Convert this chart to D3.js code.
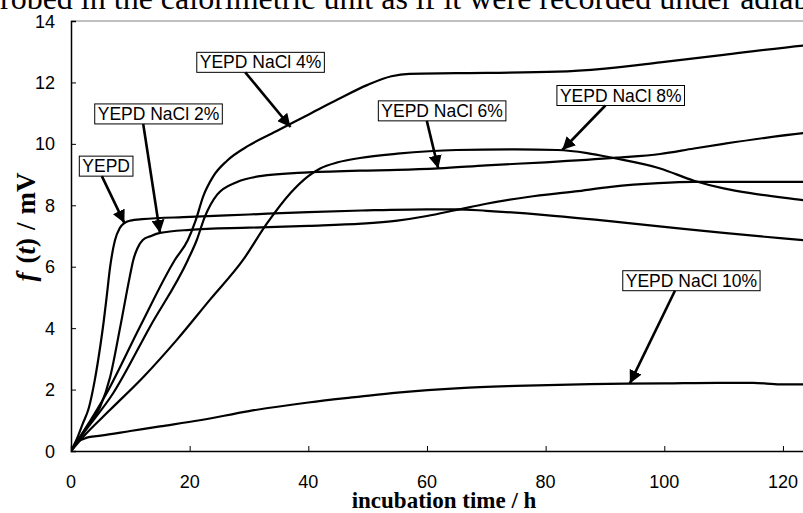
<!DOCTYPE html>
<html>
<head>
<meta charset="utf-8">
<script src="https://cdn.jsdelivr.net/npm/d3@7"></script>
<style>
  html, body { margin: 0; padding: 0; background: #fff; }
  svg { display: block; }
</style>
</head>
<body>
<svg id="chart" width="803" height="513"></svg>
<script>
// time (h) / f(t) (mV)
const yepd = [[0,0],[1,0.4],[2,0.9],[3,1.4],[4,2.3],[5,3.5],[5.5,4.2],[6,5.0],[6.6,6.0],[7.4,6.85],[8.2,7.25],[9,7.42],[10,7.5],[12,7.55],[20,7.62],[30,7.7],[40,7.78],[49,7.83],[60,7.87],[65,7.87],[70,7.82],[80,7.68],[90,7.5],[100,7.3],[110,7.1],[120,6.92],[126,6.82]];
const nacl2 = [[0,0],[1,0.3],[2.6,0.78],[4.9,1.43],[6.6,2.41],[8.3,4.04],[9.9,5.67],[10.5,6.22],[11.2,6.6],[12.1,6.87],[13.5,7.0],[15,7.1],[20,7.2],[30,7.27],[40,7.33],[49,7.4],[55,7.5],[60,7.65],[65,7.85],[70,8.05],[77,8.27],[85,8.45],[91,8.6],[99,8.72],[105,8.76],[126,8.76]];
const nacl4 = [[0,0],[2,0.6],[6,1.88],[11.6,4.04],[17.5,6.22],[19.7,6.87],[21,7.5],[22.3,8.3],[24,8.95],[26.3,9.45],[30,9.95],[35,10.45],[40,10.95],[45,11.45],[50,11.92],[54,12.2],[57,12.28],[65,12.3],[82,12.35],[90,12.45],[99.3,12.65],[110,12.9],[123.4,13.2],[126,13.25]];
const nacl6 = [[0,0],[2,0.55],[7.1,1.88],[13.3,4.04],[19.7,6.22],[21.2,6.87],[22.5,7.6],[24.6,8.34],[28,8.76],[31.9,8.95],[40,9.07],[48.7,9.13],[55,9.15],[62,9.2],[70,9.3],[80,9.4],[92,9.55],[99.3,9.67],[105,9.85],[110,10.0],[123.4,10.35],[126,10.4]];
const nacl8 = [[0,0],[2,0.45],[6.6,1.34],[12.2,2.41],[17.8,3.61],[23.4,4.92],[29,6.22],[33,7.4],[37,8.4],[40,8.95],[42,9.2],[45,9.4],[48.7,9.54],[55,9.68],[65,9.8],[75,9.82],[82,9.8],[87,9.7],[91.4,9.54],[99.3,9.2],[105,8.8],[110,8.55],[115,8.38],[123.4,8.17],[126,8.1]];
const nacl10 = [[0,0],[0.5,0.15],[1,0.3],[2,0.38],[3,0.45],[5,0.5],[10,0.65],[15,0.8],[21.7,1.0],[30,1.3],[40,1.58],[48.7,1.77],[55,1.9],[65.6,2.05],[75,2.12],[87.5,2.18],[100,2.2],[109,2.22],[115,2.22],[119.5,2.17],[126,2.17]];

const xTicks = [0, 20, 40, 60, 80, 100, 120];
const yTicks = [0, 2, 4, 6, 8, 10, 12, 14];

// label text, box corner (x, y in data units) and arrow tip (t, f)
const labels = [
  { text: "YEPD", box: [1.4, 9.6], tip: [9, 7.42] },
  { text: "YEPD NaCl 2%", box: [4, 11.3], tip: [15, 7.1] },
  { text: "YEPD NaCl 4%", box: [21.2, 12.98], tip: [37, 10.55] },
  { text: "YEPD NaCl 6%", box: [51.8, 11.4], tip: [61.9, 9.2] },
  { text: "YEPD NaCl 8%", box: [81.9, 11.9], tip: [82.8, 9.8] },
  { text: "YEPD NaCl 10%", box: [93, 5.87], tip: [94.2, 2.2] }
];

const svg = d3.select("#chart");

const x = d3.scaleLinear().domain([0, 140]).range([71, 71 + 140 * 5.933]);
const y = d3.scaleLinear().domain([0, 14]).range([451, 21]);

// text cut off at the top of the page
svg.append("text")
  .attr("x", -16)
  .attr("y", 9)
  .style("font-family", "'Liberation Serif', 'Times New Roman', serif")
  .style("font-size", "32px")
  .text("probed in the calorimetric unit as if it were recorded under adiabatic conditions");

svg.append("clipPath").attr("id", "plot")
  .append("rect")
  .attr("x", x(0)).attr("y", y(14))
  .attr("width", x(140) - x(0)).attr("height", y(0) - y(14));

// top frame line
svg.append("line")
  .attr("x1", x(0)).attr("x2", x(140))
  .attr("y1", y(14)).attr("y2", y(14))
  .attr("stroke", "#808080").attr("stroke-width", 1);

// axes, ticks pointing inward
svg.append("g")
  .attr("transform", `translate(0,${y(0)})`)
  .call(d3.axisTop(x).tickValues(xTicks).tickSize(5).tickFormat(""))
  .call(g => g.select(".domain").attr("stroke-width", 1.5));

svg.append("g")
  .attr("transform", `translate(${x(0)},0)`)
  .call(d3.axisRight(y).tickValues(yTicks).tickSize(5).tickFormat(""))
  .call(g => g.select(".domain").attr("stroke-width", 1.5));

// tick labels
svg.append("g").selectAll("text")
  .data(xTicks).join("text")
  .attr("x", d => x(d)).attr("y", 488)
  .attr("text-anchor", "middle")
  .style("font-family", "'Liberation Sans', Arial, sans-serif")
  .style("font-size", "18px")
  .text(d => d);

svg.append("g").selectAll("text")
  .data(yTicks).join("text")
  .attr("x", 55).attr("y", d => y(d) + 6.5)
  .attr("text-anchor", "end")
  .style("font-family", "'Liberation Sans', Arial, sans-serif")
  .style("font-size", "18px")
  .text(d => d);

// axis titles
svg.append("text")
  .attr("x", 444).attr("y", 508)
  .attr("text-anchor", "middle")
  .style("font-family", "'Liberation Serif', 'Times New Roman', serif")
  .style("font-size", "23px")
  .style("font-weight", "bold")
  .text("incubation time / h");

const yTitle = svg.append("text")
  .attr("transform", "translate(35,227) rotate(-90)")
  .attr("text-anchor", "middle")
  .style("font-family", "'Liberation Serif', 'Times New Roman', serif")
  .style("font-size", "27px")
  .style("font-weight", "bold");
yTitle.append("tspan").style("font-style", "italic").text("f");
yTitle.append("tspan").attr("dx", 9).text("(");
yTitle.append("tspan").style("font-style", "italic").text("t");
yTitle.append("tspan").text(")");
yTitle.append("tspan").attr("dx", 8).text("/");
yTitle.append("tspan").attr("dx", 8).text("mV");

// curves
const line = d3.line()
  .x(d => x(d[0]))
  .y(d => y(d[1]))
  .curve(d3.curveMonotoneX);

svg.append("g")
  .attr("clip-path", "url(#plot)")
  .selectAll("path")
  .data([yepd, nacl2, nacl4, nacl6, nacl8, nacl10])
  .join("path")
  .attr("d", line)
  .attr("fill", "none")
  .attr("stroke", "#000")
  .attr("stroke-width", 2.2);

// arrow head
svg.append("defs").append("marker")
  .attr("id", "head")
  .attr("viewBox", "0 0 10 10")
  .attr("refX", 10).attr("refY", 5)
  .attr("markerWidth", 5).attr("markerHeight", 5)
  .attr("markerUnits", "strokeWidth")
  .attr("orient", "auto")
  .append("path")
  .attr("d", "M0,0L10,5L0,10Z")
  .attr("fill", "#000");

// labelled boxes with arrows
const lab = svg.append("g").selectAll("g")
  .data(labels).join("g");

lab.append("text")
  .attr("x", d => x(d.box[0]) + 3)
  .attr("y", d => y(d.box[1]) + 16)
  .style("font-family", "'Liberation Sans', Arial, sans-serif")
  .style("font-size", "17.5px")
  .text(d => d.text);

lab.each(function (d) {
  const g = d3.select(this);
  const w = g.select("text").node().getComputedTextLength() + 6;
  const bx = x(d.box[0]), by = y(d.box[1]);
  g.insert("rect", "text")
    .attr("x", bx).attr("y", by)
    .attr("width", w).attr("height", 20)
    .attr("fill", "#fff")
    .attr("stroke", "#000").attr("stroke-width", 1);
  // arrow starts from the lower edge of the box
  const sx = bx + w * (d.text === "YEPD" ? 0.42 : 0.38);
  g.append("line")
    .attr("x1", sx).attr("y1", by + 20)
    .attr("x2", x(d.tip[0])).attr("y2", y(d.tip[1]))
    .attr("stroke", "#000").attr("stroke-width", 2.6)
    .attr("marker-end", "url(#head)");
});
</script>
</body>
</html>
